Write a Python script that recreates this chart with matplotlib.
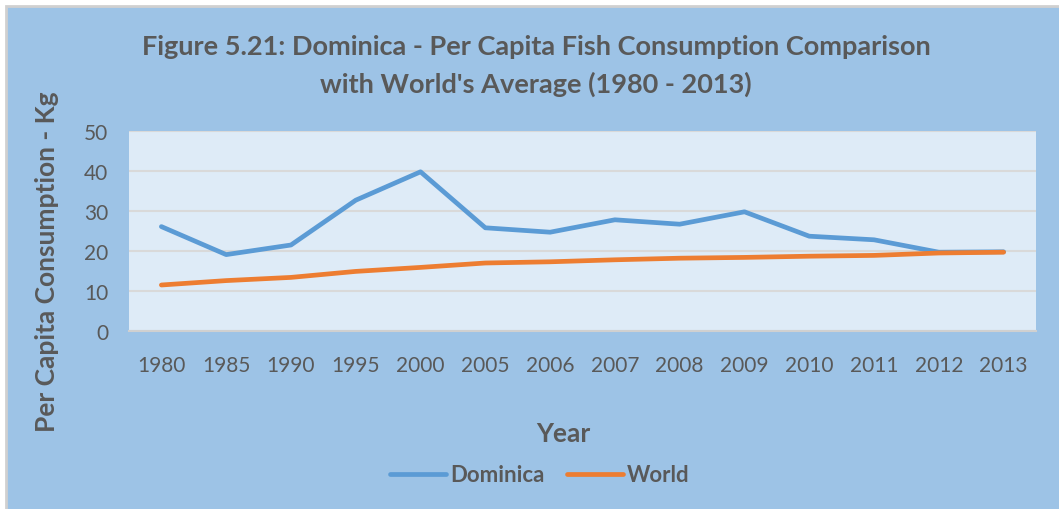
import matplotlib.pyplot as plt
from matplotlib.patches import Rectangle

years = ['1980', '1985', '1990', '1995', '2000', '2005', '2006', '2007',
         '2008', '2009', '2010', '2011', '2012', '2013']
dominica = [26.1, 19.1, 21.5, 32.7, 39.8, 25.8, 24.7, 27.8, 26.7, 29.8,
            23.7, 22.8, 19.7, 19.8]
world = [11.5, 12.6, 13.4, 14.9, 15.9, 17.0, 17.3, 17.8, 18.2, 18.4,
         18.7, 18.9, 19.5, 19.7]

plt.rcParams['font.family'] = ['Lato', 'DejaVu Sans']
txt = '#595959'

fig = plt.figure(figsize=(10.59, 5.10), dpi=100, facecolor='white')
# chart area background with thin grey frame on top/left
fig.patches.append(Rectangle((6 / 1059, -0.05), 1.1, (510 - 7) / 510 + 0.05,
                             transform=fig.transFigure, facecolor='#9DC3E6',
                             edgecolor='#D0D0D0', linewidth=2, zorder=-10))

ax = fig.add_axes([129 / 1059, (510 - 332) / 510, 907 / 1059, 200 / 510])
ax.set_facecolor('#DEEBF7')

x = range(len(years))
ax.plot(x, dominica, color='#5B9BD5', lw=3.4, label='Dominica',
        solid_capstyle='round', zorder=3)
ax.plot(x, world, color='#ED7D31', lw=3.4, label='World',
        solid_capstyle='round', zorder=3)

ax.set_xlim(-0.5, len(years) - 0.5)
ax.set_ylim(0, 50)
ax.set_yticks(range(0, 51, 10))
ax.set_xticks(list(x))
ax.set_xticklabels(years)
ax.grid(axis='y', color='#D9D9D9', lw=1.5)
ax.set_axisbelow(True)
for s in ['top', 'right', 'left']:
    ax.spines[s].set_visible(False)
ax.spines['bottom'].set_color('#D0D0D0')
ax.spines['bottom'].set_linewidth(1.5)
ax.tick_params(length=0, labelsize=15, labelcolor=txt)
ax.tick_params(axis='x', pad=17)
ax.tick_params(axis='y', pad=15)

fig.text(536 / 1059, 1 - 47 / 510,
         "Figure 5.21: Dominica - Per Capita Fish Consumption Comparison",
         ha='center', va='center', fontsize=19.5, fontweight='bold', color=txt)
fig.text(536 / 1059, 1 - 84 / 510,
         "with World's Average (1980 - 2013)",
         ha='center', va='center', fontsize=19.5, fontweight='bold', color=txt)
fig.text(47 / 1059, 1 - 262 / 510, 'Per Capita Consumption - Kg',
         rotation=90, ha='center', va='center', fontsize=19,
         fontweight='bold', color=txt)
fig.text(563 / 1059, 1 - 434 / 510, 'Year', ha='center', va='center',
         fontsize=19, fontweight='bold', color=txt)

leg = fig.legend(loc='center', bbox_to_anchor=(540 / 1059, 1 - 476 / 510),
                 ncol=2, frameon=False, handlelength=2.5, columnspacing=1.0,
                 handletextpad=0.2, prop={'size': 16, 'weight': 'bold'})
for t in leg.get_texts():
    t.set_color(txt)

fig.savefig('out.png', dpi=100, facecolor=fig.get_facecolor())
